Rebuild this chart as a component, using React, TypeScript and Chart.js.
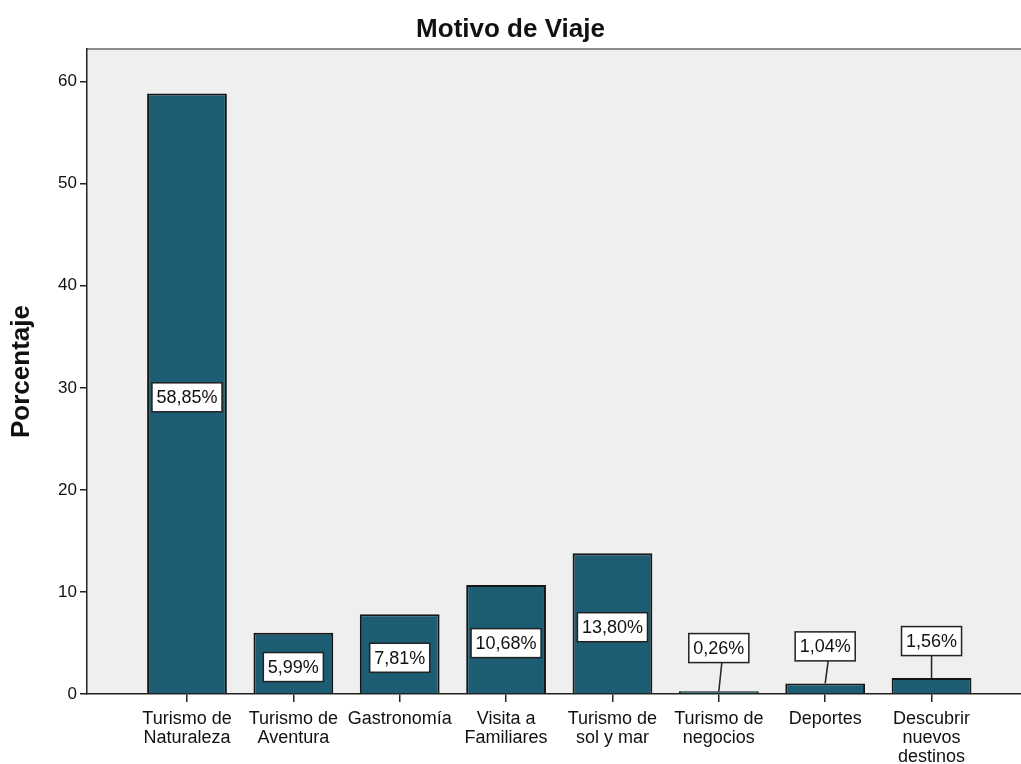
import { useEffect, useRef } from "react";
import { Chart, registerables } from "chart.js";

Chart.register(...registerables);

const categories: string[][] = [
  ["Turismo de", "Naturaleza"],
  ["Turismo de", "Aventura"],
  ["Gastronomía"],
  ["Visita a", "Familiares"],
  ["Turismo de", "sol y mar"],
  ["Turismo de", "negocios"],
  ["Deportes"],
  ["Descubrir", "nuevos", "destinos"],
];
const percentages = [58.85, 5.99, 7.81, 10.68, 13.8, 0.26, 1.04, 1.56];
const valueLabels = ["58,85%", "5,99%", "7,81%", "10,68%", "13,80%", "0,26%", "1,04%", "1,56%"];
const yTicks = [0, 10, 20, 30, 40, 50, 60];

const FONT = '"Liberation Sans", Arial, sans-serif';

const bgPlugin = {
  id: "plotBg",
  beforeDraw(chart: any) {
    const { ctx, chartArea: a } = chart;
    ctx.save();
    ctx.fillStyle = "#efefef";
    ctx.fillRect(a.left, a.top, a.right - a.left, a.bottom - a.top);
    ctx.strokeStyle = "#8c8c8c";
    ctx.lineWidth = 2;
    ctx.beginPath();
    ctx.moveTo(a.left, a.top);
    ctx.lineTo(a.right, a.top);
    ctx.stroke();
    ctx.restore();
  },
};

const labelPlugin = {
  id: "boxLabels",
  afterDatasetsDraw(chart: any) {
    const { ctx } = chart;
    const yScale = chart.scales.y;
    const meta = chart.getDatasetMeta(0);
    ctx.save();
    ctx.font = `18px ${FONT}`;
    ctx.textAlign = "center";
    ctx.textBaseline = "middle";
    meta.data.forEach((bar: any, i: number) => {
      const { x, y: top, base } = bar.getProps(["x", "y", "base"], true);
      const text = valueLabels[i];
      const w = ctx.measureText(text).width + 9;
      const h = 29;
      let cy: number;
      if (percentages[i] >= 5) {
        cy = (top + base) / 2 + 4;
      } else {
        cy = Math.min(top - 37, yScale.getPixelForValue(4.5));
        const slant = percentages[i] < 1.5 ? 3 : 0;
        ctx.strokeStyle = "#222";
        ctx.lineWidth = 1.5;
        ctx.beginPath();
        ctx.moveTo(x + slant, cy + h / 2);
        ctx.lineTo(x, top);
        ctx.stroke();
      }
      ctx.fillStyle = "#ffffff";
      ctx.fillRect(x - w / 2, cy - h / 2, w, h);
      ctx.strokeStyle = "#222";
      ctx.lineWidth = 1.5;
      ctx.strokeRect(x - w / 2, cy - h / 2, w, h);
      ctx.fillStyle = "#111";
      ctx.fillText(text, x, cy + 1);
    });
    ctx.restore();
  },
};

export default function App() {
  const ref = useRef<HTMLCanvasElement | null>(null);

  useEffect(() => {
    if (!ref.current) return;
    const chart = new Chart(ref.current, {
      type: "bar",
      data: {
        datasets: [
          {
            data: percentages.map((v, i) => ({ x: i, y: v })),
            backgroundColor: "#1c5d73",
            borderColor: "#151515",
            borderWidth: 2,
            categoryPercentage: 1,
            barPercentage: 0.75,
          },
        ],
      },
      options: {
        responsive: false,
        animation: false,
        layout: { padding: 0 },
        plugins: {
          legend: { display: false },
          tooltip: { enabled: false },
          title: {
            display: true,
            text: "Motivo de Viaje",
            color: "#111",
            font: { family: FONT, size: 26, weight: "bold", lineHeight: 1.2 },
            padding: { top: 14, bottom: 3.8 },
          },
        },
        scales: {
          x: {
            type: "linear",
            min: -0.94,
            max: 7.841,
            offset: false,
            afterFit: (s: any) => {
              s.height = 70;
            },
            afterBuildTicks: (s: any) => {
              s.ticks = categories.map((_, i) => ({ value: i }));
            },
            grid: {
              offset: false,
              drawOnChartArea: false,
              drawTicks: true,
              tickLength: 8,
              color: "#222",
              lineWidth: 1.5,
            },
            border: { display: true, color: "#222", width: 1.5 },
            ticks: {
              autoSkip: false,
              maxRotation: 0,
              minRotation: 0,
              padding: 8,
              color: "#111",
              font: { family: FONT, size: 18, lineHeight: 1.05 },
              callback: (v: any) => categories[Math.round(Number(v))] ?? "",
            },
          },
          y: {
            type: "linear",
            min: 0,
            max: 63.2,
            afterFit: (s: any) => {
              s.width = 87;
            },
            afterBuildTicks: (s: any) => {
              s.ticks = yTicks.map((v) => ({ value: v }));
            },
            grid: {
              drawOnChartArea: false,
              drawTicks: true,
              tickLength: 7,
              color: "#222",
              lineWidth: 1.5,
            },
            border: { display: true, color: "#222", width: 1.5 },
            ticks: {
              padding: 3,
              color: "#111",
              font: { family: FONT, size: 17 },
              callback: (v: any) => String(v),
            },
            title: {
              display: true,
              text: "Porcentaje",
              color: "#111",
              font: { family: FONT, size: 26, weight: "bold", lineHeight: 1.2 },
              padding: { top: 6, bottom: 0 },
            },
          },
        },
      },
      plugins: [bgPlugin, labelPlugin],
    } as any);
    return () => chart.destroy();
  }, []);

  return (
    <div style={{ position: "fixed", left: 0, top: 0, width: 1021, height: 764, background: "#fff" }}>
      <canvas ref={ref} width={1021} height={764} style={{ display: "block" }} />
    </div>
  );
}
